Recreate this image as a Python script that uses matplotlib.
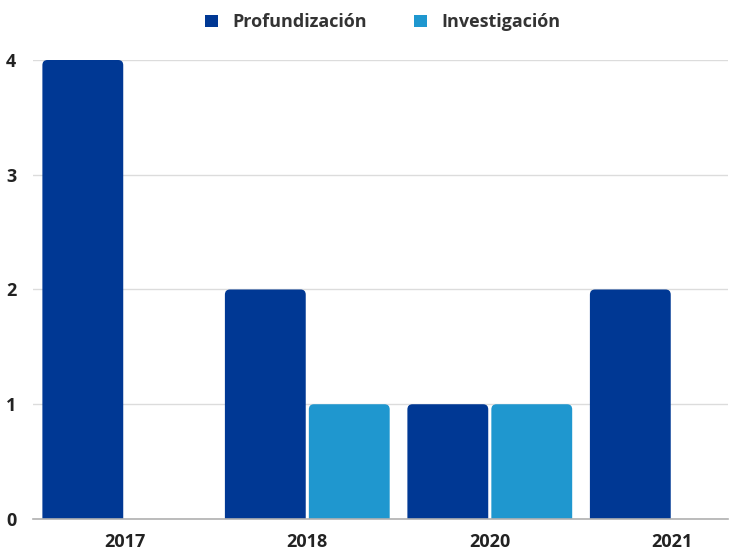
import numpy as np
import matplotlib
matplotlib.use("Agg")
import matplotlib.pyplot as plt
from matplotlib.patches import FancyBboxPatch, Rectangle, Patch

years = ["2017", "2018", "2020", "2021"]
profundizacion = [4, 2, 1, 2]
investigacion = [0, 1, 1, 0]
series_names = ["Profundización", "Investigación"]
colors = ["#003894", "#1f97cf"]

plt.rcParams['font.family'] = ['Open Sans', 'DejaVu Sans']

fig = plt.figure(figsize=(7.43, 5.54), dpi=100)
ax = fig.add_axes([0.0444, 0.0632, 0.9356, 0.8285])

x = np.arange(len(years))
bw = 0.443
off = 0.23

bars1 = ax.bar(x - off, profundizacion, bw, color=colors[0], label=series_names[0])
bars2 = ax.bar(x + off, investigacion, bw, color=colors[1], label=series_names[1])

# swap plain rectangles for rounded-top ones
rx = 0.028
asp = (5 / 113.5) / (5 / 183.0)
for bars, c in [(bars1, colors[0]), (bars2, colors[1])]:
    for b in bars:
        h = b.get_height()
        b.set_visible(False)
        if h <= 0:
            continue
        p = FancyBboxPatch((b.get_x(), -0.2), b.get_width(), h + 0.2,
                           boxstyle="round,pad=0,rounding_size=%f" % rx,
                           mutation_aspect=asp, facecolor=c, edgecolor="none",
                           zorder=3)
        ax.add_patch(p)

ax.set_xlim(-0.503, 3.306)
ax.set_ylim(0, 4.0)
ax.set_yticks([0, 1, 2, 3, 4])
ax.set_xticks(x)
ax.set_xticklabels(years)
ax.grid(axis='y', color='#dcdcdc', linewidth=1.0, zorder=0)
ax.set_axisbelow(True)
for s in ['top', 'right', 'left']:
    ax.spines[s].set_visible(False)
ax.spines['bottom'].set_color('#b0b0b0')
ax.spines['bottom'].set_linewidth(1.2)
ax.spines['bottom'].set_zorder(4)
ax.tick_params(axis='both', length=0, labelsize=13, colors='#222222')
ax.tick_params(axis='x', pad=10)
ax.tick_params(axis='y', pad=12)
for lbl in ax.get_xticklabels() + ax.get_yticklabels():
    lbl.set_fontweight('bold')

# keep the rounded tops, cut the bottoms at the baseline
clip = Rectangle((-0.6, 0), 5, 5, transform=ax.transData)
for p in ax.patches:
    p.set_clip_path(clip)

handles = [Patch(facecolor=colors[0]), Patch(facecolor=colors[1])]
fig.legend(handles, series_names, loc='upper center', bbox_to_anchor=(0.515, 1.005),
           ncol=2, frameon=False, handlelength=0.7, handleheight=0.7,
           handletextpad=0.8, columnspacing=2.6,
           prop={'size': 13, 'weight': 'bold'}, labelcolor='#333333')

fig.savefig("out.png", dpi=100)
